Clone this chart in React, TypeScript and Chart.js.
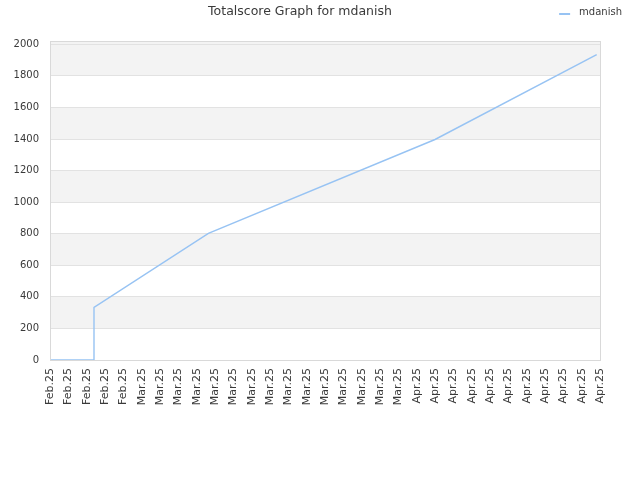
import { useEffect, useRef } from 'react';
import { Chart, registerables } from 'chart.js';

Chart.register(...registerables);

// x axis: one label per tick, the points sit between them (in tick units)
const tickLabels: string[] = [
  'Feb.25', 'Feb.25', 'Feb.25', 'Feb.25', 'Feb.25',
  'Mar.25', 'Mar.25', 'Mar.25', 'Mar.25', 'Mar.25',
  'Mar.25', 'Mar.25', 'Mar.25', 'Mar.25', 'Mar.25',
  'Mar.25', 'Mar.25', 'Mar.25', 'Mar.25', 'Mar.25',
  'Apr.25', 'Apr.25', 'Apr.25', 'Apr.25', 'Apr.25',
  'Apr.25', 'Apr.25', 'Apr.25', 'Apr.25', 'Apr.25', 'Apr.25',
];
const pointX: number[] = [0, 2.4, 2.4, 8.64, 21.0, 29.82];
const pointY: number[] = [0, 0, 333, 802, 1397, 1935];
const yTicks: number[] = [0, 200, 400, 600, 800, 1000, 1200, 1400, 1600, 1800, 2000];

const seriesName = 'mdanish';
const lineColor = '#97c3f3';
const textColor = '#3a3a3a';
const fontFamily = '"DejaVu Sans", sans-serif';

// alternating grey bands behind the grid
const bandsPlugin = {
  id: 'bands',
  beforeDraw(chart: Chart) {
    const { ctx, chartArea } = chart;
    const y = chart.scales.y;
    ctx.save();
    ctx.fillStyle = '#ffffff';
    ctx.fillRect(chartArea.left, chartArea.top, chartArea.width, chartArea.height);
    ctx.fillStyle = '#f3f3f3';
    for (let i = 0; i < yTicks.length; i++) {
      const lo = yTicks[i];
      const hi = i + 1 < yTicks.length ? yTicks[i + 1] : (y.max as number);
      // last strip above the top tick keeps the colour of the band below it
      const grey = i + 1 < yTicks.length ? i % 2 === 1 : (i - 1) % 2 === 1;
      if (!grey) continue;
      const top = y.getPixelForValue(hi);
      const bottom = y.getPixelForValue(lo);
      ctx.fillRect(chartArea.left, top, chartArea.width, bottom - top);
    }
    ctx.restore();
  },
};

// frame around the plot + legend in the top right corner
const framePlugin = {
  id: 'frame',
  afterDraw(chart: Chart) {
    const { ctx, chartArea } = chart;
    ctx.save();
    ctx.strokeStyle = '#d9d9d9';
    ctx.lineWidth = 1;
    ctx.strokeRect(
      Math.round(chartArea.left) + 0.5,
      Math.round(chartArea.top) + 0.5,
      Math.round(chartArea.width),
      Math.round(chartArea.height)
    );

    const ds = chart.data.datasets[0];
    ctx.font = `10px ${fontFamily}`;
    ctx.textBaseline = 'middle';
    ctx.textAlign = 'right';
    ctx.fillStyle = textColor;
    const right = chart.width - 18;
    const label = String(ds.label);
    ctx.fillText(label, right, 12.5);
    const start = right - ctx.measureText(label).width - 9;
    ctx.strokeStyle = String(ds.borderColor);
    ctx.lineWidth = 2;
    ctx.beginPath();
    ctx.moveTo(start - 11, 14);
    ctx.lineTo(start, 14);
    ctx.stroke();
    ctx.restore();
  },
};

export default function App() {
  const canvasRef = useRef<HTMLCanvasElement>(null);
  const chartRef = useRef<Chart | null>(null);

  useEffect(() => {
    if (!canvasRef.current) return;
    if (chartRef.current) chartRef.current.destroy();

    chartRef.current = new Chart(canvasRef.current, {
      type: 'line',
      data: {
        datasets: [{
          label: seriesName,
          data: pointX.map((x, i) => ({ x, y: pointY[i] })),
          borderColor: lineColor,
          backgroundColor: lineColor,
          borderWidth: 1.4,
          pointRadius: 0,
          tension: 0,
          fill: false,
        }],
      },
      options: {
        animation: false,
        responsive: true,
        maintainAspectRatio: false,
        layout: { padding: { left: 0, right: 40, top: 0, bottom: 0 } },
        plugins: {
          legend: { display: false },
          tooltip: { enabled: false },
          title: {
            display: true,
            text: 'Totalscore Graph for mdanish',
            color: textColor,
            font: { family: fontFamily, size: 12.5, weight: 'normal' },
            padding: { top: 4, bottom: 22 },
          },
        },
        scales: {
          x: {
            type: 'linear',
            min: 0,
            max: tickLabels.length - 1,
            grid: { display: false, drawTicks: false },
            border: { display: false },
            afterBuildTicks: (scale) => {
              scale.ticks = tickLabels.map((_, i) => ({ value: i }));
            },
            afterFit: (scale) => { scale.height = 120; },
            ticks: {
              autoSkip: false,
              maxRotation: 90,
              minRotation: 90,
              padding: 8,
              color: textColor,
              font: { family: fontFamily, size: 11 },
              callback: (value) => tickLabels[Number(value)] ?? '',
            },
          },
          y: {
            type: 'linear',
            min: 0,
            max: 2021,
            grid: { color: '#e2e2e2', drawTicks: false },
            border: { display: false },
            afterBuildTicks: (scale) => {
              scale.ticks = yTicks.map((v) => ({ value: v }));
            },
            afterFit: (scale) => { scale.width = 50; },
            ticks: {
              padding: 11,
              color: textColor,
              font: { family: fontFamily, size: 10 },
              callback: (value) => String(value),
            },
          },
        },
      },
      plugins: [bandsPlugin, framePlugin],
    });

    return () => {
      if (chartRef.current) {
        chartRef.current.destroy();
        chartRef.current = null;
      }
    };
  }, []);

  return (
    <div style={{ position: 'absolute', left: 0, top: 0, width: 640, height: 480, background: '#fff' }}>
      <canvas ref={canvasRef}></canvas>
    </div>
  );
}
